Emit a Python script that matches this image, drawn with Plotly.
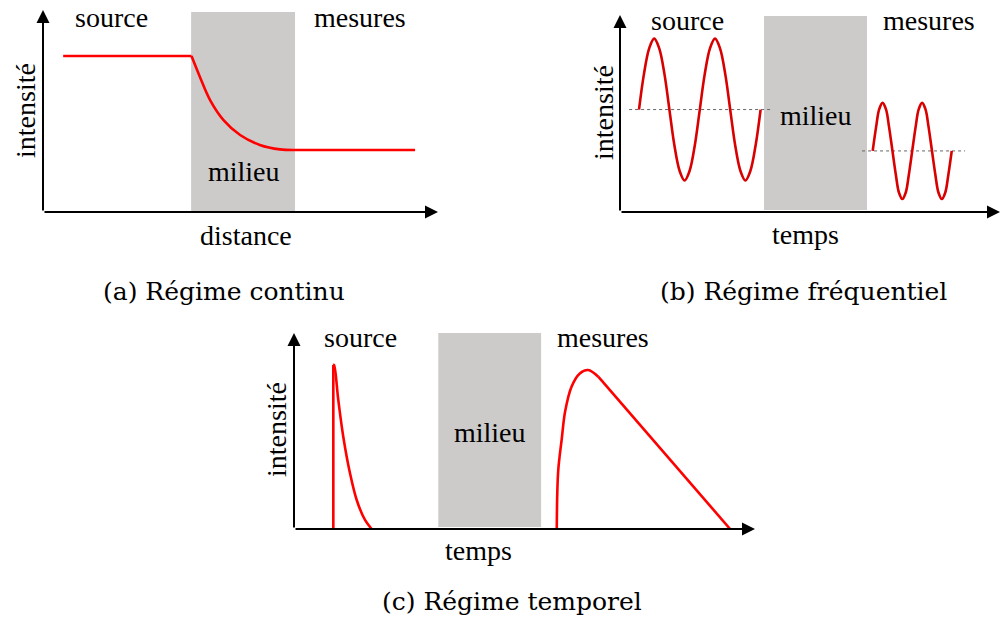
import plotly.graph_objects as go

W, H = 1000, 624

# ---- (a) continuous regime: intensity vs distance ----
a_src_x = [0.51, 3.76]
a_src_y = [7.72, 7.72]
a_med_x = [3.76, 3.97, 4.23, 4.57, 4.99, 5.49, 6.00, 6.38]
a_med_y = [7.72, 6.70, 5.54, 4.55, 3.81, 3.32, 3.10, 3.07]
a_out_x = [6.38, 9.42]
a_out_y = [3.07, 3.07]
a_medium = [3.75, 6.38, 0.0, 9.9]

# ---- (b) frequency regime: sinusoids before / after the medium ----
b_src_x = [0.5, 0.63, 0.77, 0.9, 1.03, 1.17, 1.3, 1.43, 1.57, 1.7, 1.83, 1.97, 2.1,
           2.23, 2.37, 2.5, 2.63, 2.77, 2.9, 3.03, 3.17, 3.3, 3.43, 3.57, 3.7]
b_src_y = [5.2, 7.0, 8.32, 8.8, 8.32, 7.0, 5.2, 3.4, 2.08, 1.6, 2.08, 3.4, 5.2,
           7.0, 8.32, 8.8, 8.32, 7.0, 5.2, 3.4, 2.08, 1.6, 2.08, 3.4, 5.2]
b_out_x = [6.65, 6.74, 6.82, 6.91, 7.0, 7.08, 7.17, 7.26, 7.34, 7.43, 7.52, 7.6, 7.69,
           7.78, 7.86, 7.95, 8.04, 8.12, 8.21, 8.3, 8.38, 8.47, 8.56, 8.64, 8.73]
b_out_y = [3.1, 4.32, 5.21, 5.54, 5.21, 4.32, 3.1, 1.88, 0.99, 0.66, 0.99, 1.88, 3.1,
           4.32, 5.21, 5.54, 5.21, 4.32, 3.1, 1.88, 0.99, 0.66, 0.99, 1.88, 3.1]
b_src_mean = [0.24, 3.95, 5.2]
b_out_mean = [6.37, 9.08, 3.1]
b_medium = [3.79, 6.50, 0.1, 9.95]

# ---- (c) time regime: short pulse and broadened response ----
c_rise_x = [0.853, 0.853]
c_rise_y = [0.0, 8.37]
c_src_x = [0.853, 0.868, 0.961, 1.069, 1.215, 1.360, 1.540, 1.685]
c_src_y = [8.37, 8.37, 6.58, 4.71, 2.84, 1.48, 0.46, 0.0]
c_out_x = [5.70, 5.73, 5.81, 5.88, 6.02, 6.20, 6.38, 6.60]
c_out_y = [0.0, 2.92, 4.63, 5.98, 7.26, 7.94, 8.11, 7.77]
c_tail_x = [6.60, 9.46]
c_tail_y = [7.77, 0.0]
c_medium = [3.13, 5.36, 0.1, 10.0]

# panel boxes in pixels: left, right, bottom, top
boxes = {
    "": (43, 438, 212, 10),
    "2": (620, 1000, 212, 15),
    "3": (294, 755, 529, 333),
}

RED = "#ff0000"
RED_B = "#d80000"
GREY = "#cccbca"
SERIF = "Liberation Serif, Times New Roman, serif"
CAPTION = "DejaVu Serif"


def px(x):
    return x / W


def py(y):
    return 1 - y / H


fig = go.Figure()


def line(x, y, ax, color=RED, shape="linear", width=2.6, dash=None, smooth=1.0):
    fig.add_trace(go.Scatter(
        x=x, y=y, mode="lines", xaxis="x" + ax, yaxis="y" + ax,
        line=dict(color=color, width=width, shape=shape, dash=dash,
                  smoothing=smooth),
        hoverinfo="skip", showlegend=False))


# (a)
line(a_src_x, a_src_y, "")
line(a_med_x, a_med_y, "", shape="spline")
line(a_out_x, a_out_y, "")

# (b)
line(b_src_mean[:2], [b_src_mean[2]] * 2, "2", color="#666666", width=1, dash="dot")
line(b_out_mean[:2], [b_out_mean[2]] * 2, "2", color="#666666", width=1, dash="dot")
line(b_src_x, b_src_y, "2", color=RED_B, shape="spline")
line(b_out_x, b_out_y, "2", color=RED_B, shape="spline")

# (c)
line(c_rise_x, c_rise_y, "3")
line(c_src_x, c_src_y, "3", shape="spline")
line(c_out_x, c_out_y, "3", shape="spline")
line(c_tail_x, c_tail_y, "3")

shapes = []
for ax, med in (("", a_medium), ("2", b_medium), ("3", c_medium)):
    shapes.append(dict(type="rect", xref="x" + ax, yref="y" + ax,
                       x0=med[0], x1=med[1], y0=med[2], y1=med[3],
                       fillcolor=GREY, line=dict(width=0), layer="below"))

annotations = []
# axis arrows
for ax in ("", "2", "3"):
    for tip in ((10, 0), (0, 10)):
        annotations.append(dict(
            x=tip[0], y=tip[1], ax=0, ay=0,
            xref="x" + ax, yref="y" + ax, axref="x" + ax, ayref="y" + ax,
            showarrow=True, arrowhead=2, arrowsize=1.3, arrowwidth=2,
            arrowcolor="black", standoff=0, startstandoff=0, text=""))


def label(text, x, y, size=28, angle=0, font=SERIF):
    annotations.append(dict(
        text=text, x=px(x), y=py(y), xref="paper", yref="paper",
        xanchor="center", yanchor="middle", showarrow=False,
        textangle=angle, font=dict(family=font, size=size, color="black")))


# (a) labels
label("source", 111, 17)
label("mesures", 360, 17)
label("milieu", 244, 171)
label("distance", 246, 235)
label("intensité", 25, 111, angle=-90)
label("(a) Régime continu", 224, 291, size=25, font=CAPTION)

# (b) labels
label("source", 687, 20)
label("mesures", 929, 20)
label("milieu", 816, 115)
label("temps", 805, 234)
label("intensité", 603, 113, angle=-90)
label("(b) Régime fréquentiel", 803, 291, size=25, font=CAPTION)

# (c) labels
label("source", 360, 337)
label("mesures", 603, 337)
label("milieu", 490, 432)
label("temps", 478, 550)
label("intensité", 276, 430, angle=-90)
label("(c) Régime temporel", 512, 601, size=25, font=CAPTION)

layout = dict(
    width=W, height=H, margin=dict(l=0, r=0, t=0, b=0),
    paper_bgcolor="white", plot_bgcolor="rgba(0,0,0,0)",
    shapes=shapes, annotations=annotations, showlegend=False,
)
for ax, (l, r, b, t) in boxes.items():
    layout["xaxis" + ax] = dict(domain=[px(l), px(r)], range=[0, 10], visible=False,
                                anchor="y" + ax, fixedrange=True)
    layout["yaxis" + ax] = dict(domain=[py(b), py(t)], range=[0, 10], visible=False,
                                anchor="x" + ax, fixedrange=True)
fig.update_layout(**layout)

fig.write_html("out.html", config={"displayModeBar": False})
